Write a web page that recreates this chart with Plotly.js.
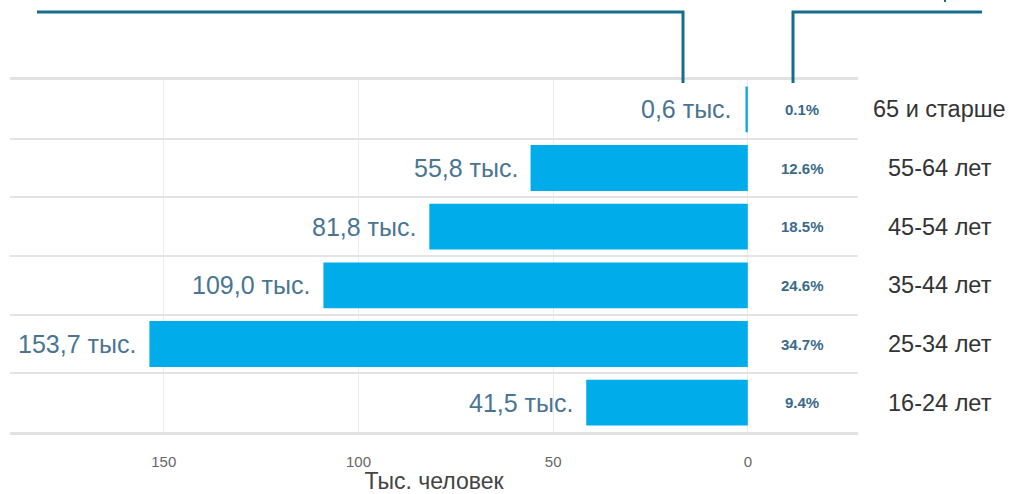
<!DOCTYPE html>
<html>
<head>
<meta charset="utf-8">
<script src="https://cdn.plot.ly/plotly-3.0.1.min.js"></script>
<style>html,body{margin:0;padding:0;background:#fff;}#chart{width:1009px;height:494px;}</style>
</head>
<body>
<div id="chart"></div>
<script>
// Data (top to bottom)
const categories = ["65 и старше", "55-64 лет", "45-54 лет", "35-44 лет", "25-34 лет", "16-24 лет"];
const valuesThousands = [0.6, 55.8, 81.8, 109.0, 153.7, 41.5];
const valueLabels = ["0,6 тыс.", "55,8 тыс.", "81,8 тыс.", "109,0 тыс.", "153,7 тыс.", "41,5 тыс."];
const percentLabels = ["0.1%", "12.6%", "18.5%", "24.6%", "34.7%", "9.4%"];
const xTickVals = [150, 100, 50, 0];
const xTickText = ["150", "100", "50", "0"];
const xAxisTitle = "Тыс. человек";

const W = 1009, H = 494;
const margin = {l: 10, r: 151, t: 80, b: 62};
const plotW = W - margin.l - margin.r;
const plotH = H - margin.t - margin.b;
// helpers to convert page pixel coords to paper coords (decorations only)
const px = x => (x - margin.l) / plotW;
const py = y => 1 - (y - margin.t) / plotH;

const FONT = "Liberation Sans, Arial, sans-serif";

const trace = {
  type: "bar",
  orientation: "h",
  x: valuesThousands,
  y: categories,
  marker: {color: "#00ADEA"},
  width: 0.78,
  hoverinfo: "none"
};

const annotations = [];
categories.forEach((c, i) => {
  annotations.push({
    x: valuesThousands[i], y: c, xref: "x", yref: "y",
    text: valueLabels[i], showarrow: false,
    xanchor: "right", xshift: -11,
    font: {family: FONT, size: 25, color: "#4a7592"}
  });
  annotations.push({
    x: -14, y: c, xref: "x", yref: "y",
    text: "<b>" + percentLabels[i] + "</b>", showarrow: false,
    xanchor: "center",
    font: {family: FONT, size: 15, color: "#3a6a88"}
  });
  annotations.push({
    x: px(940), y: c, xref: "paper", yref: "y",
    text: c, showarrow: false, xanchor: "center",
    font: {family: FONT, size: 23.5, color: "#333333"}
  });
});

const lineColor = "#166c8c";
const shapes = [
  {type: "path", xref: "paper", yref: "paper",
   path: `M ${px(37)} ${py(12)} L ${px(683)} ${py(12)} L ${px(683)} ${py(83)}`,
   line: {color: lineColor, width: 3}},
  {type: "path", xref: "paper", yref: "paper",
   path: `M ${px(793)} ${py(83)} L ${px(793)} ${py(12)} L ${px(982)} ${py(12)}`,
   line: {color: lineColor, width: 3}},
  {type: "line", xref: "paper", yref: "paper",
   x0: px(945), x1: px(945), y0: py(0), y1: py(2),
   line: {color: lineColor, width: 2}}
];

const layout = {
  width: W, height: H,
  margin: margin,
  paper_bgcolor: "#ffffff",
  plot_bgcolor: "#ffffff",
  showlegend: false,
  xaxis: {
    range: [189.5, -28.3],
    tickvals: xTickVals,
    ticktext: xTickText,
    showgrid: true,
    gridcolor: "#ececec",
    gridwidth: 1,
    zeroline: false,
    showline: true,
    mirror: true,
    linecolor: "#e2e2e2",
    linewidth: 3,
    ticks: "",
    ticklabelstandoff: 14,
    tickfont: {family: FONT, size: 15, color: "#666666"},
    title: {text: xAxisTitle, standoff: 5,
            font: {family: FONT, size: 23, color: "#444444"}}
  },
  yaxis: {
    type: "category",
    autorange: "reversed",
    showticklabels: false,
    tickson: "boundaries",
    ticks: "",
    showgrid: true,
    gridcolor: "#e4e4e4",
    gridwidth: 2,
    zeroline: false,
    showline: false
  },
  annotations: annotations,
  shapes: shapes
};

Plotly.newPlot("chart", [trace], layout, {displayModeBar: false, staticPlot: true});
</script>
</body>
</html>
